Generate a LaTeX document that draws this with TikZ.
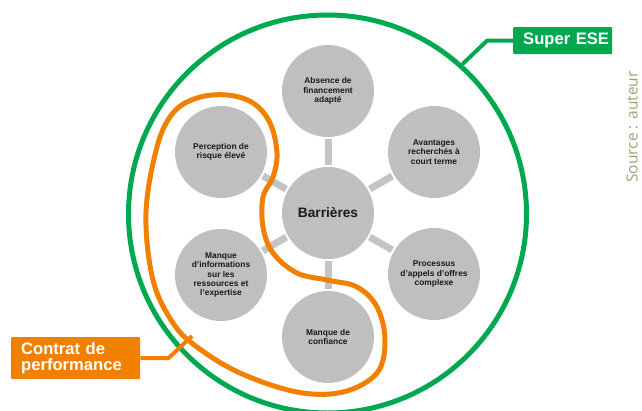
\documentclass[tikz,border=0pt]{standalone}
\usepackage{fontspec}
\setmainfont{Liberation Sans}
\newfontfamily\srcfont{Open Sans}
\begin{document}
\definecolor{eseGreen}{RGB}{0,168,80}
\definecolor{cpOrange}{RGB}{242,128,0}
\definecolor{bubble}{RGB}{191,191,191}
\definecolor{spoke}{RGB}{196,196,196}
\definecolor{srcText}{RGB}{165,158,120}
\definecolor{bubbleText}{RGB}{25,25,25}
\begin{tikzpicture}[x=1pt,y=-1pt,
  bubble/.style={circle,fill=bubble,minimum size=92pt,inner sep=0pt,align=center,
    text=bubbleText,font=\fontsize{8.4}{9.3}\selectfont\bfseries},
  spokebar/.style={draw=spoke,line width=7pt,shorten >=2pt,shorten <=2pt},
  tagbox/.style={rectangle,rounded corners=1pt,text=white,align=left,inner sep=0pt,
    font=\fontsize{16.6}{15.5}\selectfont\bfseries,anchor=north west},
  tagline/.style={line width=4pt,line join=round}]
\useasboundingbox (0,0) rectangle (642,410);

% outer group boundary
\node[circle,draw=eseGreen,line width=5pt,minimum size=398pt,inner sep=0pt] (ese) at (327.5,214) {};

% centre and the six barriers
\node[bubble,font=\fontsize{13.7}{15}\selectfont\bfseries] (core) at (328,213) {Barrières};
\node[bubble] (b1) at (328,91)  {Absence de\\financement\\adapté};
\node[bubble] (b2) at (434,152) {Avantages\\recherchés à\\court terme};
\node[bubble] (b3) at (434,274) {Processus\\d’appels d’offres\\complexe};
\node[bubble] (b4) at (328,337) {Manque de\\confiance};
\node[bubble] (b5) at (221,275) {Manque\\d’informations\\sur les\\ressources et\\l’expertise};
\node[bubble] (b6) at (221,152) {Perception de\\risque élevé};

\foreach \b in {b1,b2,b3,b4,b5,b6}
  \draw[spokebar] (core) -- (\b);

% performance contract boundary
\draw[cpOrange,line width=5pt] plot[smooth cycle,tension=0.6] coordinates {
  (227,95) (253,103) (270,123) (277,153) (273,177) (263,197) (263,227)
  (273,253) (297,273) (327,280) (357,287) (377,307) (385,340) (377,373)
  (343,392) (297,392) (240,373) (197,347) (173,323) (153,280) (146,213)
  (157,147) (173,113) (197,98)};
\coordinate (cpEdge) at (192,336);

% labels
\node[tagbox,fill=eseGreen,minimum width=99pt,minimum height=27pt,text width=99pt]
  (eseTag) at (513,27) {\hspace*{10pt}Super ESE};
\node[tagbox,fill=cpOrange,minimum width=129pt,minimum height=42pt,text width=129pt]
  (cpTag) at (11,337) {\hspace*{10pt}Contrat de\\\hspace*{10pt}performance};

\draw[tagline,eseGreen] (eseTag.west) -- ++(-26,0) -- (ese.48);
\draw[tagline,cpOrange] (cpTag.east) -- ++(28,0) -- (cpEdge);

% source note
\node[rotate=90,text=srcText,font=\srcfont\fontsize{15.5}{16}\selectfont,inner sep=0pt]
  (src) at (632,127) {Source : auteur};
\end{tikzpicture}
\end{document}
